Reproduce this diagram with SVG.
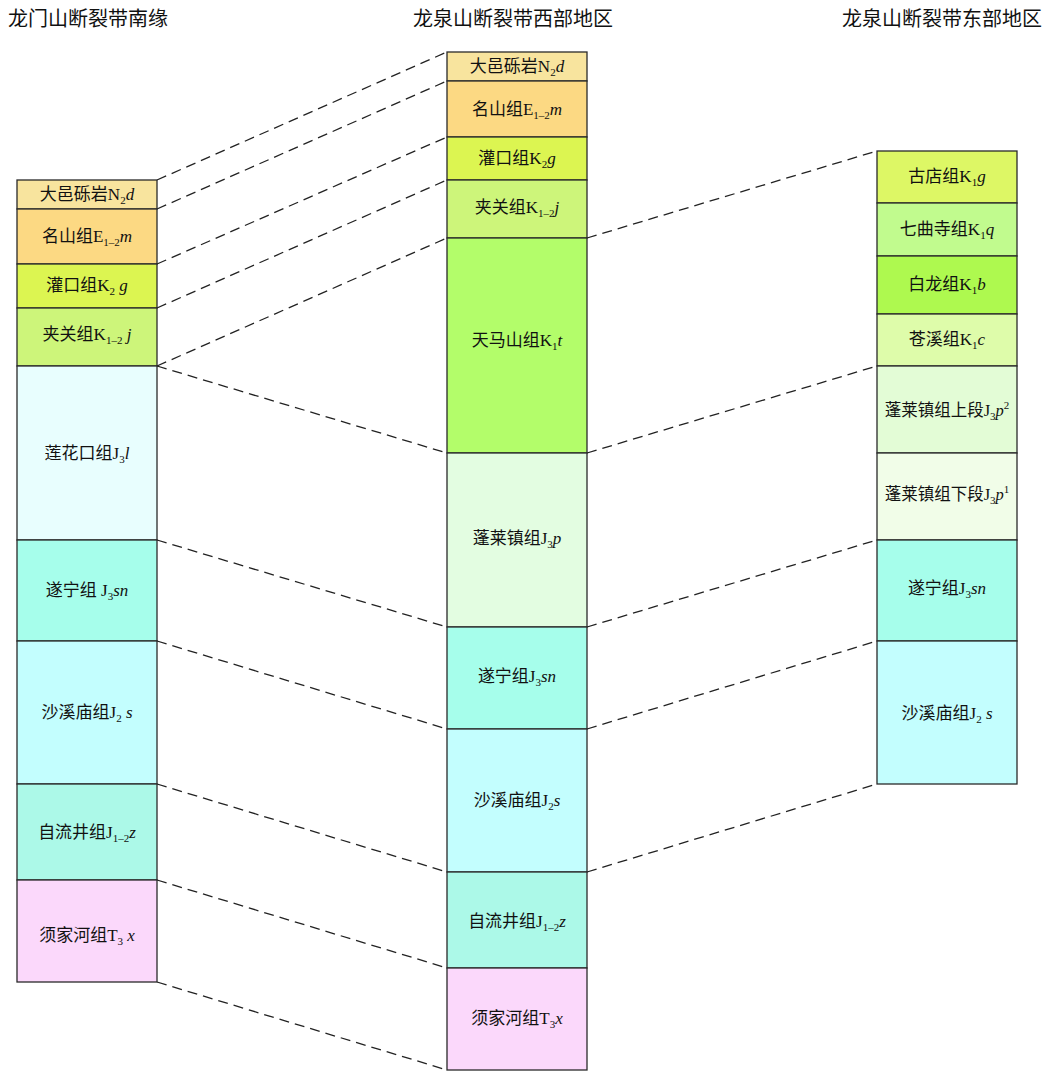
<svg xmlns="http://www.w3.org/2000/svg" width="1050" height="1073" viewBox="0 0 1050 1073">
<style>
.box{stroke:#2a2a2a;stroke-width:1.3}
.lbl{font-family:"Liberation Serif","Noto Sans CJK SC",serif;font-size:17px;fill:#111;text-anchor:middle}
.ttl{font-family:"Noto Sans CJK SC",sans-serif;font-size:20px;fill:#111}
.i{font-style:italic}
.s{font-size:11px}
.conn line{stroke:#222;stroke-width:1.3;stroke-dasharray:10 6;fill:none}
</style>
<rect width="1050" height="1073" fill="#fff"/>
<g id="titles">
<text class="ttl" x="8" y="26">龙门山断裂带南缘</text>
<text class="ttl" x="413" y="26">龙泉山断裂带西部地区</text>
<text class="ttl" x="842" y="26">龙泉山断裂带东部地区</text>
</g>
<g class="conn" id="connectors">
<line x1="157" y1="180" x2="447" y2="52"/>
<line x1="157" y1="209" x2="447" y2="81"/>
<line x1="157" y1="264" x2="447" y2="137"/>
<line x1="157" y1="308" x2="447" y2="180"/>
<line x1="157" y1="366" x2="447" y2="238"/>
<line x1="157" y1="366" x2="447" y2="453"/>
<line x1="157" y1="540" x2="447" y2="627"/>
<line x1="157" y1="641" x2="447" y2="729"/>
<line x1="157" y1="784" x2="447" y2="872"/>
<line x1="157" y1="880" x2="447" y2="968"/>
<line x1="157" y1="982" x2="447" y2="1070"/>
<line x1="587" y1="238" x2="877" y2="151"/>
<line x1="587" y1="453" x2="877" y2="366"/>
<line x1="587" y1="627" x2="877" y2="540"/>
<line x1="587" y1="729" x2="877" y2="641"/>
<line x1="587" y1="872" x2="877" y2="784"/>
</g>
<g id="left-column">
<g id="L-Nd"><rect class="box" x="17" y="180" width="140" height="29" fill="#F8E49E"/><text class="lbl" x="87" y="200">大邑砾岩N<tspan class="s" dy="4">2</tspan><tspan class="i" dy="-4">d</tspan></text></g>
<g id="L-Em"><rect class="box" x="17" y="209" width="140" height="55" fill="#FCD983"/><text class="lbl" x="87" y="242">名山组E<tspan class="s" dy="4">1–2</tspan><tspan class="i" dy="-4">m</tspan></text></g>
<g id="L-Kg"><rect class="box" x="17" y="264" width="140" height="44" fill="#DCF551"/><text class="lbl" x="87" y="291">灌口组K<tspan class="s" dy="4">2</tspan><tspan class="i" dy="-4"> g</tspan></text></g>
<g id="L-Kj"><rect class="box" x="17" y="308" width="140" height="58" fill="#CDF57A"/><text class="lbl" x="87" y="340">夹关组K<tspan class="s" dy="4">1–2</tspan><tspan class="i" dy="-4"> j</tspan></text></g>
<g id="L-Jl"><rect class="box" x="17" y="366" width="140" height="174" fill="#E8FEFE"/><text class="lbl" x="87" y="459">莲花口组J<tspan class="s" dy="4">3</tspan><tspan class="i" dy="-4">l</tspan></text></g>
<g id="L-Jsn"><rect class="box" x="17" y="540" width="140" height="101" fill="#A6FEEB"/><text class="lbl" x="87" y="596">遂宁组 J<tspan class="s" dy="4">3</tspan><tspan class="i" dy="-4">sn</tspan></text></g>
<g id="L-Js"><rect class="box" x="17" y="641" width="140" height="143" fill="#C3FEFE"/><text class="lbl" x="87" y="718">沙溪庙组J<tspan class="s" dy="4">2</tspan><tspan class="i" dy="-4"> s</tspan></text></g>
<g id="L-Jz"><rect class="box" x="17" y="784" width="140" height="96" fill="#ACF9E8"/><text class="lbl" x="87" y="838">自流井组J<tspan class="s" dy="4">1–2</tspan><tspan class="i" dy="-4">z</tspan></text></g>
<g id="L-Tx"><rect class="box" x="17" y="880" width="140" height="102" fill="#FBD8FB"/><text class="lbl" x="87" y="941">须家河组T<tspan class="s" dy="4">3</tspan><tspan class="i" dy="-4"> x</tspan></text></g>
</g>
<g id="middle-column">
<g id="M-Nd"><rect class="box" x="447" y="52" width="140" height="29" fill="#F8E49E"/><text class="lbl" x="517" y="72">大邑砾岩N<tspan class="s" dy="4">2</tspan><tspan class="i" dy="-4">d</tspan></text></g>
<g id="M-Em"><rect class="box" x="447" y="81" width="140" height="56" fill="#FCD983"/><text class="lbl" x="517" y="115">名山组E<tspan class="s" dy="4">1–2</tspan><tspan class="i" dy="-4">m</tspan></text></g>
<g id="M-Kg"><rect class="box" x="447" y="137" width="140" height="43" fill="#DCF551"/><text class="lbl" x="517" y="164">灌口组K<tspan class="s" dy="4">2</tspan><tspan class="i" dy="-4">g</tspan></text></g>
<g id="M-Kj"><rect class="box" x="447" y="180" width="140" height="58" fill="#CDF57A"/><text class="lbl" x="517" y="213">夹关组K<tspan class="s" dy="4">1–2</tspan><tspan class="i" dy="-4">j</tspan></text></g>
<g id="M-Kt"><rect class="box" x="447" y="238" width="140" height="215" fill="#B3FD6A"/><text class="lbl" x="517" y="346">天马山组K<tspan class="s" dy="4">1</tspan><tspan class="i" dy="-4">t</tspan></text></g>
<g id="M-Jp"><rect class="box" x="447" y="453" width="140" height="174" fill="#E3FDE1"/><text class="lbl" x="517" y="544">蓬莱镇组J<tspan class="s" dy="4">3</tspan><tspan class="i" dy="-4">p</tspan></text></g>
<g id="M-Jsn"><rect class="box" x="447" y="627" width="140" height="102" fill="#A6FEEB"/><text class="lbl" x="517" y="682">遂宁组J<tspan class="s" dy="4">3</tspan><tspan class="i" dy="-4">sn</tspan></text></g>
<g id="M-Js"><rect class="box" x="447" y="729" width="140" height="143" fill="#C3FEFE"/><text class="lbl" x="517" y="806">沙溪庙组J<tspan class="s" dy="4">2</tspan><tspan class="i" dy="-4">s</tspan></text></g>
<g id="M-Jz"><rect class="box" x="447" y="872" width="140" height="96" fill="#ACF9E8"/><text class="lbl" x="517" y="927">自流井组J<tspan class="s" dy="4">1–2</tspan><tspan class="i" dy="-4">z</tspan></text></g>
<g id="M-Tx"><rect class="box" x="447" y="968" width="140" height="102" fill="#FBD8FB"/><text class="lbl" x="517" y="1024">须家河组T<tspan class="s" dy="4">3</tspan><tspan class="i" dy="-4">x</tspan></text></g>
</g>
<g id="right-column">
<g id="R-Kg"><rect class="box" x="877" y="151" width="140" height="52" fill="#DDF765"/><text class="lbl" x="947" y="182">古店组K<tspan class="s" dy="4">1</tspan><tspan class="i" dy="-4">g</tspan></text></g>
<g id="R-Kq"><rect class="box" x="877" y="203" width="140" height="53" fill="#C1FB8E"/><text class="lbl" x="947" y="235">七曲寺组K<tspan class="s" dy="4">1</tspan><tspan class="i" dy="-4">q</tspan></text></g>
<g id="R-Kb"><rect class="box" x="877" y="256" width="140" height="58" fill="#AEF94F"/><text class="lbl" x="947" y="290">白龙组K<tspan class="s" dy="4">1</tspan><tspan class="i" dy="-4">b</tspan></text></g>
<g id="R-Kc"><rect class="box" x="877" y="314" width="140" height="52" fill="#DEFCAA"/><text class="lbl" x="947" y="345">苍溪组K<tspan class="s" dy="4">1</tspan><tspan class="i" dy="-4">c</tspan></text></g>
<g id="R-Jp2"><rect class="box" x="877" y="366" width="140" height="87" fill="#E3FCD6"/><text class="lbl" x="947" y="416" style="font-size:16.5px">蓬莱镇组上段J<tspan class="s" dy="4">3</tspan><tspan class="i" dy="-4">p</tspan><tspan class="s" dy="-7">2</tspan></text></g>
<g id="R-Jp1"><rect class="box" x="877" y="453" width="140" height="87" fill="#F1FDE8"/><text class="lbl" x="947" y="500" style="font-size:16.5px">蓬莱镇组下段J<tspan class="s" dy="4">3</tspan><tspan class="i" dy="-4">p</tspan><tspan class="s" dy="-7">1</tspan></text></g>
<g id="R-Jsn"><rect class="box" x="877" y="540" width="140" height="101" fill="#A6FEEB"/><text class="lbl" x="947" y="594">遂宁组J<tspan class="s" dy="4">3</tspan><tspan class="i" dy="-4">sn</tspan></text></g>
<g id="R-Js"><rect class="box" x="877" y="641" width="140" height="143" fill="#C3FEFE"/><text class="lbl" x="947" y="719">沙溪庙组J<tspan class="s" dy="4">2</tspan><tspan class="i" dy="-4"> s</tspan></text></g>
</g>
</svg>
